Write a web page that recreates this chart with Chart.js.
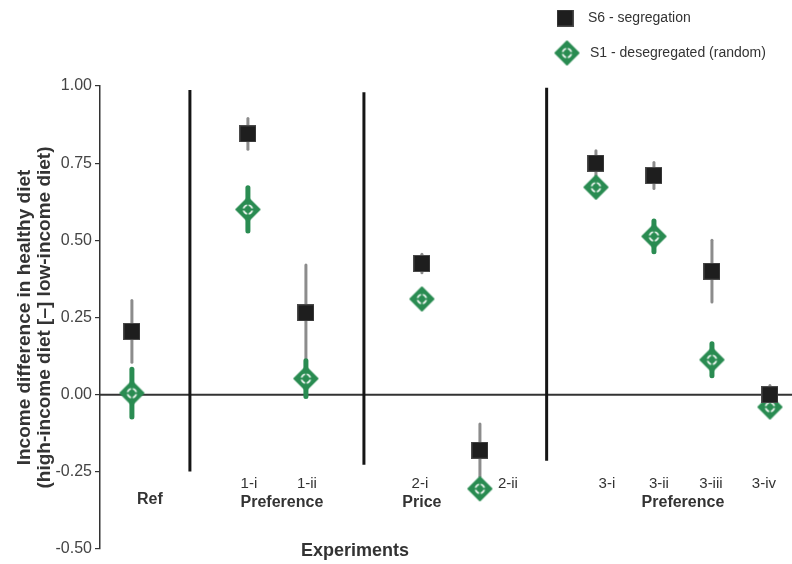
<!DOCTYPE html>
<html>
<head>
<meta charset="utf-8">
<script src="https://cdn.jsdelivr.net/npm/chart.js@4.4.1/dist/chart.umd.min.js"></script>
<style>
  html, body { margin: 0; padding: 0; background: #ffffff; overflow: hidden; }
  #wrap { width: 792px; height: 564px; position: relative; }
  #chart { display: block; }
</style>
</head>
<body>
<div id="wrap"><canvas id="chart"></canvas></div>
<script>
// Experiments, grouped by treatment (Ref | Preference | Price | Preference)
const experiments = ['Ref', '1-i', '1-ii', '2-i', '2-ii', '3-i', '3-ii', '3-iii', '3-iv'];
const itemLabels  = ['', '1-i', '1-ii', '2-i', '2-ii', '3-i', '3-ii', '3-iii', '3-iv'];
const groupLabels = ['Ref', 'Preference', 'Price', 'Preference'];
const groupSizes  = [1, 2, 2, 4];

// S6 - segregation: mean and error half-width
const s6Values = [0.205, 0.845, 0.265, 0.425, -0.18, 0.75, 0.71, 0.40, 0.0];
const s6Errors = [0.10, 0.05, 0.155, 0.03, 0.085, 0.04, 0.042, 0.10, 0.03];

// S1 - desegregated (random): mean and error half-width
const s1Values = [0.005, 0.60, 0.052, 0.31, -0.305, 0.672, 0.513, 0.113, -0.04];
const s1Errors = [0.077, 0.07, 0.058, 0.015, 0.015, 0.015, 0.05, 0.052, 0.015];

// y-axis ticks
const yTicks = [-0.5, -0.25, 0, 0.25, 0.5, 0.75, 1.0];

// Slot index on the x axis: one empty slot between consecutive groups
const groupIndex = [];
groupSizes.forEach((n, g) => { for (let i = 0; i < n; i++) groupIndex.push(g); });
const slots = experiments.map((_, i) => i + groupIndex[i]);

// Vertical dividers in the empty slots, with their vertical extent (y units)
const dividerX      = [1, 4, 7.15];
const dividerTop    = [0.987, 0.98, 0.994];
const dividerBottom = [-0.249, -0.227, -0.214];

// Label nudges in pixels
const itemLabelDx  = [0, 1, 1, -2, 28, 11, 5, -1, -6];
const groupLabelDx = [18, 5, -29, 0];

const FONT = '"Liberation Sans", Arial, Helvetica, sans-serif';
const GREEN = '#2a8c52';
const BLACK = '#1e1e1e';

function makeSquare() {
  const c = document.createElement('canvas');
  c.width = 17; c.height = 17;
  const g = c.getContext('2d');
  g.fillStyle = BLACK;
  g.fillRect(0.5, 0.5, 16, 16);
  g.strokeStyle = '#4a4a4a';
  g.lineWidth = 1;
  g.strokeRect(0.5, 0.5, 16, 16);
  return c;
}

function makeDiamond() {
  const c = document.createElement('canvas');
  c.width = 27; c.height = 27;
  const g = c.getContext('2d');
  const m = 13.5, r = 11.5;
  g.fillStyle = GREEN;
  g.strokeStyle = GREEN;
  g.lineJoin = 'round';
  g.lineWidth = 2;
  g.beginPath();
  g.moveTo(m, m - r); g.lineTo(m + r, m); g.lineTo(m, m + r); g.lineTo(m - r, m);
  g.closePath();
  g.fill(); g.stroke();
  // white ring broken by a green cross
  g.strokeStyle = '#ffffff';
  g.lineWidth = 1.8;
  g.beginPath(); g.arc(m, m, 4.3, 0, Math.PI * 2); g.stroke();
  g.strokeStyle = GREEN;
  g.lineWidth = 1.8;
  g.beginPath();
  g.moveTo(m - 6, m); g.lineTo(m + 6, m);
  g.moveTo(m, m - 6); g.lineTo(m, m + 6);
  g.stroke();
  return c;
}

const squareImg = makeSquare();
const diamondImg = makeDiamond();

const overlay = {
  id: 'overlay',
  beforeDatasetsDraw(chart) {
    const { ctx, chartArea, scales: { x, y } } = chart;
    ctx.save();
    // zero line
    const y0 = y.getPixelForValue(0);
    ctx.strokeStyle = '#333333';
    ctx.lineWidth = 2;
    ctx.beginPath();
    ctx.moveTo(chartArea.left, y0);
    ctx.lineTo(chart.width, y0);
    ctx.stroke();

    // group dividers
    ctx.strokeStyle = '#151515';
    ctx.lineWidth = 3;
    dividerX.forEach((dx, i) => {
      const px = x.getPixelForValue(dx);
      ctx.beginPath();
      ctx.moveTo(px, y.getPixelForValue(dividerTop[i]));
      ctx.lineTo(px, y.getPixelForValue(dividerBottom[i]));
      ctx.stroke();
    });

    // error bars
    const bars = (vals, errs, color, w) => {
      ctx.strokeStyle = color;
      ctx.lineWidth = w;
      ctx.lineCap = 'round';
      vals.forEach((v, i) => {
        const px = x.getPixelForValue(slots[i]);
        ctx.beginPath();
        ctx.moveTo(px, y.getPixelForValue(v + errs[i]));
        ctx.lineTo(px, y.getPixelForValue(v - errs[i]));
        ctx.stroke();
      });
    };
    bars(s6Values, s6Errors, '#8c8c8c', 3);
    bars(s1Values, s1Errors, GREEN, 5);
    ctx.restore();
  },
  afterDraw(chart) {
    const { ctx, chartArea, scales: { x } } = chart;
    ctx.save();
    ctx.fillStyle = '#333333';
    ctx.textBaseline = 'middle';
    ctx.textAlign = 'center';

    // experiment labels
    ctx.font = '15px ' + FONT;
    itemLabels.forEach((t, i) => {
      if (!t) return;
      ctx.fillText(t, x.getPixelForValue(slots[i]) + itemLabelDx[i], 484);
    });

    // group labels
    ctx.font = 'bold 16px ' + FONT;
    let start = 0;
    groupSizes.forEach((n, g) => {
      const mids = slots.slice(start, start + n);
      const mean = mids.reduce((a, b) => a + b, 0) / n;
      ctx.fillText(groupLabels[g], x.getPixelForValue(mean) + groupLabelDx[g], g === 0 ? 500 : 503);
      start += n;
    });

    // x title
    ctx.font = 'bold 18px ' + FONT;
    ctx.fillText('Experiments', 355, 551);

    // y title, two centred lines
    ctx.save();
    ctx.font = 'bold 19px ' + FONT;
    ctx.translate(25, (chartArea.top + chartArea.bottom) / 2);
    ctx.rotate(-Math.PI / 2);
    ctx.fillText('Income difference in healthy diet', 0, 0);
    ctx.fillText('(high-income diet [\u2013] low-income diet)', 0, 20);
    ctx.restore();

    // legend
    ctx.drawImage(squareImg, 565 - 8.5, 18 - 8.5);
    ctx.drawImage(diamondImg, 567 - 13.5, 53 - 13.5);
    ctx.font = '14px ' + FONT;
    ctx.textAlign = 'left';
    ctx.fillText('S6 - segregation', 588, 18);
    ctx.fillText('S1 - desegregated (random)', 590, 53);
    ctx.restore();
  }
};

new Chart(document.getElementById('chart'), {
  type: 'scatter',
  data: {
    datasets: [
      {
        label: 'S6 - segregation',
        data: s6Values.map((v, i) => ({ x: slots[i], y: v })),
        pointStyle: squareImg,
        pointRadius: 9
      },
      {
        label: 'S1 - desegregated (random)',
        data: s1Values.map((v, i) => ({ x: slots[i], y: v })),
        pointStyle: diamondImg,
        pointRadius: 13
      }
    ]
  },
  options: {
    responsive: true,
    maintainAspectRatio: false,
    animation: false,
    devicePixelRatio: 1,
    layout: { autoPadding: false, padding: { top: 86, right: 0, bottom: 15, left: 0 } },
    plugins: { legend: { display: false }, tooltip: { enabled: false } },
    scales: {
      x: { type: 'linear', display: false, min: -0.55, max: 11.38 },
      y: {
        min: -0.5, max: 1.0,
        afterFit(scale) { scale.width = 100; },
        afterBuildTicks(scale) { scale.ticks = yTicks.map(v => ({ value: v })); },
        ticks: {
          padding: 3,
          color: '#444444',
          font: { family: FONT, size: 16 },
          callback: v => Number(v).toFixed(2)
        },
        grid: { drawOnChartArea: false, tickLength: 5, color: '#333333', lineWidth: 1.2 },
        border: { display: true, color: '#333333', width: 1.5 }
      }
    }
  },
  plugins: [overlay]
});
</script>
</body>
</html>
